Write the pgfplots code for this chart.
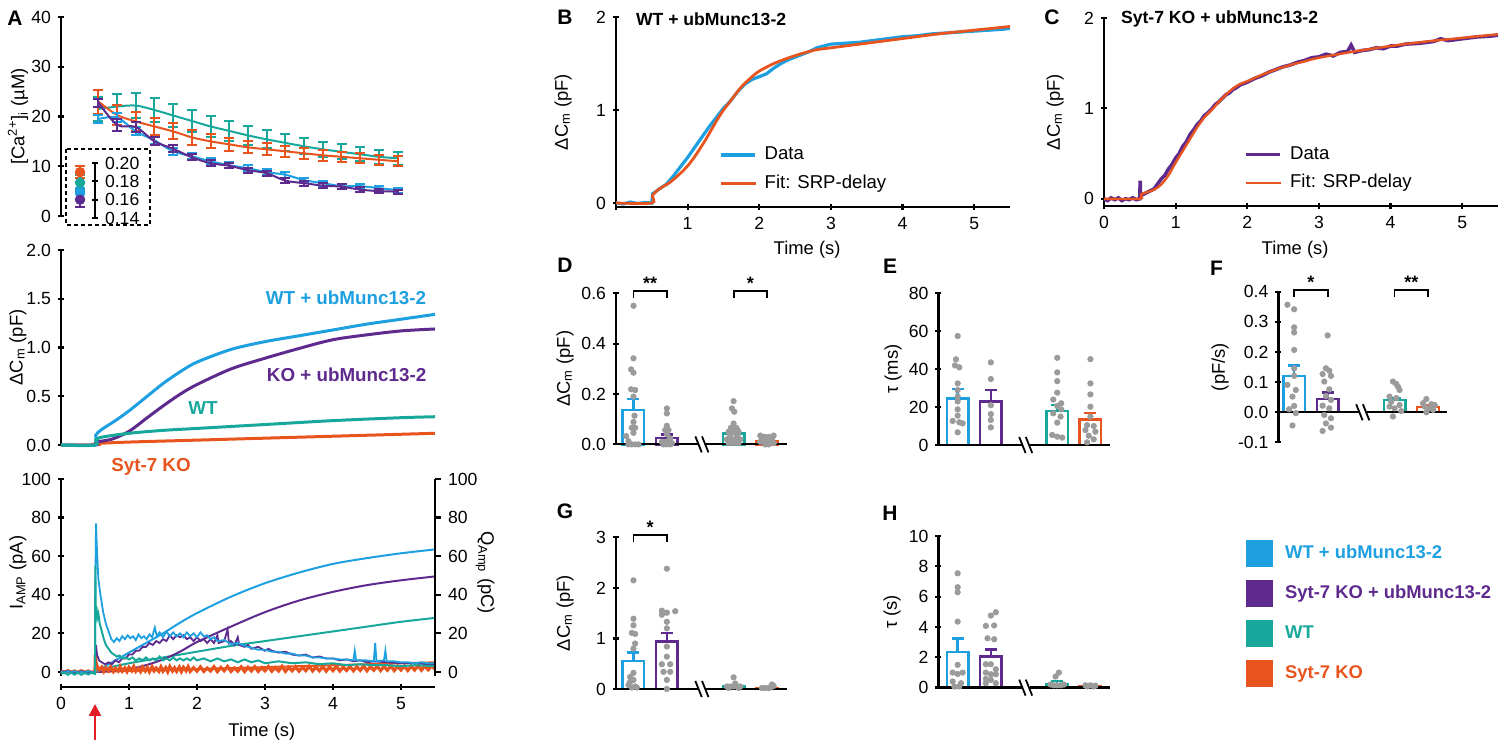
\documentclass[border=0pt]{standalone}
\usepackage{fontspec}
\setmainfont{Liberation Sans}
\usepackage{pgfplots}
\pgfplotsset{compat=1.18}
\usetikzlibrary{arrows.meta}
\definecolor{cblue}{HTML}{1EA0E0}
\definecolor{cpurp}{HTML}{5E2A8E}
\definecolor{cteal}{HTML}{17A89B}
\definecolor{corng}{HTML}{E8541E}
\definecolor{cgray}{HTML}{9B9B9B}
\definecolor{cred}{HTML}{E41E26}
\pgfplotsset{
 base/.style={scale only axis, clip=false, enlargelimits=false,
   axis line style={line width=1.1pt},
   tick style={line width=1.1pt, black},
   major tick length=3pt, tick align=outside,
   tick label style={font=\fontsize{8.8}{10}\selectfont},
   label style={font=\fontsize{9.2}{10}\selectfont},
   /pgf/number format/assume math mode=true},
 noarr/.style={every outer x axis line/.append style={-}, every outer y axis line/.append style={-},
   every inner x axis line/.append style={-}, every inner y axis line/.append style={-}},
 barax/.style={base, axis y line=left, axis x line=none, xtick=\empty, noarr},
 onebar/.style={ybar, bar width=10.8pt, bar shift=0pt, fill=white, draw=#1, line width=1.2pt,
   error bars/y dir=plus, error bars/y explicit,
   error bars/error bar style={line width=1.2pt, #1},
   error bars/error mark options={#1, rotate=90, mark size=3pt, line width=1.2pt}},
 dots/.style={only marks, mark=*, mark size=1.35pt, cgray, mark options={fill=cgray, draw=cgray}},
 caser/.style={#1, line width=1pt, smooth, mark=none,
   error bars/y dir=both, error bars/y explicit,
   error bars/error bar style={line width=1pt, #1},
   error bars/error mark options={#1, rotate=90, mark size=2.5pt, line width=1pt}},
 inset/.style={#1, only marks, mark=*, mark size=2.4pt,
   error bars/y dir=both, error bars/y explicit,
   error bars/error bar style={line width=1pt, #1},
   error bars/error mark options={#1, rotate=90, mark size=2.5pt, line width=1pt}},
}
\newcommand{\brk}{%
  \draw[white, line width=2.5pt] (axis cs:2.93,0) -- (axis cs:3.17,0);
  \draw[line width=0.9pt] ([shift={(-1.6pt,4pt)}]axis cs:2.95,0) -- ([shift={(1.6pt,-4pt)}]axis cs:2.95,0);
  \draw[line width=0.9pt] ([shift={(-1.6pt,4pt)}]axis cs:3.15,0) -- ([shift={(1.6pt,-4pt)}]axis cs:3.15,0);}
\newcommand{\bracket}[4]{% x1 x2 y text
  \draw[line width=0.9pt] ([yshift=-2.5pt]axis cs:#1,#3) -- ([yshift=1pt]axis cs:#1,#3) -- ([yshift=1pt]axis cs:#2,#3) -- ([yshift=-2.5pt]axis cs:#2,#3);
  \node[anchor=south, inner sep=0.5pt, font=\bfseries\fontsize{9}{9}\selectfont] at ([yshift=1pt]axis cs:{(#1+#2)/2},#3) {#4};}
\begin{document}
\begin{tikzpicture}
\path[use as bounding box] (0,0) rectangle (750pt,-371pt);
\tikzset{lab/.style={font=\bfseries\fontsize{10.5}{12}\selectfont, anchor=center}}
\node[lab] at (7.5pt,-9pt) {A};
\node[lab] at (282.5pt,-8.5pt) {B};
\node[lab] at (526pt,-8.5pt) {C};
\node[lab] at (282.5pt,-132.5pt) {D};
\node[lab] at (445pt,-133.3pt) {E};
\node[lab] at (608.3pt,-134pt) {F};
\node[lab] at (282.5pt,-255.8pt) {G};
\node[lab] at (445pt,-256.7pt) {H};

% ---------------- A top: Ca
\begin{axis}[base, at={(30.5pt,-108pt)}, anchor=south west, width=187pt, height=99.5pt,
  xmin=0, xmax=5.5, ymin=0, ymax=40, axis y line=left, axis x line=none, noarr,
  ytick={0,10,20,30,40},
  ylabel={[Ca\textsuperscript{2+}]\textsubscript{i} (µM)},
  ylabel style={at={(axis description cs:-0.115,0.5)}, anchor=center}]
\addplot[caser=cteal] coordinates {(0.55,21.5)+-(0,2.4) (0.825,22.0)+-(0,2.5) (1.1,22.2)+-(0,2.5) (1.375,21.3)+-(0,2.4) (1.65,20.2)+-(0,2.3) (1.925,19.1)+-(0,2.2) (2.2,18.0)+-(0,2.1) (2.475,17.1)+-(0,2.0) (2.75,16.2)+-(0,1.9) (3.025,15.4)+-(0,1.8) (3.3,14.7)+-(0,1.7) (3.575,14.0)+-(0,1.6) (3.85,13.4)+-(0,1.5) (4.125,12.9)+-(0,1.5) (4.4,12.4)+-(0,1.4) (4.675,11.9)+-(0,1.4) (4.95,11.6)+-(0,1.3)};
\addplot[caser=corng] coordinates {(0.55,23.0)+-(0,2.4) (0.825,20.3)+-(0,2.0) (1.1,19.0)+-(0,1.9) (1.375,18.0)+-(0,1.7) (1.65,17.0)+-(0,1.6) (1.925,15.8)+-(0,1.5) (2.2,15.0)+-(0,1.4) (2.475,14.4)+-(0,1.3) (2.75,13.8)+-(0,1.2) (3.025,13.4)+-(0,1.2) (3.3,13.0)+-(0,1.1) (3.575,12.6)+-(0,1.1) (3.85,12.2)+-(0,1.1) (4.125,11.9)+-(0,1.0) (4.4,11.6)+-(0,1.0) (4.675,11.3)+-(0,1.0) (4.95,11.0)+-(0,1.0)};
\addplot[caser=cblue] coordinates {(0.55,19.5)+-(0,0.8) (0.825,19.8)+-(0,0.9) (1.1,17.0)+-(0,0.8) (1.375,15.2)+-(0,0.7) (1.65,13.0)+-(0,0.7) (1.925,12.0)+-(0,0.6) (2.2,11.0)+-(0,0.6) (2.475,10.2)+-(0,0.6) (2.75,9.6)+-(0,0.6) (3.025,8.8)+-(0,0.6) (3.3,8.3)+-(0,0.6) (3.575,7.2)+-(0,0.5) (3.85,6.6)+-(0,0.5) (4.125,6.0)+-(0,0.5) (4.4,6.0)+-(0,0.5) (4.675,5.6)+-(0,0.5) (4.95,5.2)+-(0,0.5)};
\addplot[caser=cpurp] coordinates {(0.55,22.8)+-(0,0.8) (0.825,18.3)+-(0,1.2) (1.1,17.9)+-(0,1.0) (1.375,15.0)+-(0,0.8) (1.65,13.5)+-(0,0.7) (1.925,11.8)+-(0,0.6) (2.2,10.6)+-(0,0.6) (2.475,10.1)+-(0,0.5) (2.75,9.2)+-(0,0.5) (3.025,8.6)+-(0,0.5) (3.3,7.1)+-(0,0.5) (3.575,6.6)+-(0,0.5) (3.85,6.1)+-(0,0.5) (4.125,5.9)+-(0,0.5) (4.4,5.3)+-(0,0.5) (4.675,5.0)+-(0,0.4) (4.95,4.9)+-(0,0.4)};
\end{axis}
\draw[line width=1pt, dash pattern=on 2pt off 1.5pt] (33pt,-74.5pt) rectangle (75pt,-112.5pt);
% inset
\begin{axis}[base, at={(36pt,-109pt)}, anchor=south west, width=11.5pt, height=27.5pt,
  xmin=0, xmax=1, ymin=0.14, ymax=0.20, axis y line=right, axis x line=none, noarr,
  ytick={0.14,0.16,0.18,0.20},
  yticklabel style={/pgf/number format/.cd, fixed, fixed zerofill, precision=2}]
\addplot[inset=corng] coordinates {(0.35,0.19)+-(0,0.0065)};
\addplot[inset=cteal] coordinates {(0.35,0.1785)+-(0,0.008)};
\addplot[inset=cblue] coordinates {(0.35,0.167)+-(0,0.006)};
\addplot[inset=cpurp] coordinates {(0.35,0.160)+-(0,0.008)};
\end{axis}

% ---------------- A middle: dCm
\begin{axis}[base, at={(30.5pt,-222.5pt)}, anchor=south west, width=187pt, height=97.5pt,
  xmin=0, xmax=5.5, ymin=0, ymax=2, axis y line=left, axis x line=none, noarr,
  ytick={0,0.5,1,1.5,2},
  yticklabel style={/pgf/number format/.cd, fixed, fixed zerofill, precision=1},
  ylabel={ΔC\textsubscript{m} (pF)},
  ylabel style={at={(axis description cs:-0.115,0.5)}, anchor=center}]
\addplot[corng, line width=1.5pt, smooth] coordinates {(0,0) (0.5,0) (0.52,0.015) (1.0,0.03) (2.0,0.05) (3.0,0.07) (4.0,0.09) (5.0,0.11) (5.5,0.12)};
\addplot[cpurp, line width=1.5pt, smooth] coordinates {(0,0) (0.5,0) (0.52,0.03) (0.75,0.06) (1.0,0.14) (1.25,0.27) (1.5,0.4) (1.75,0.52) (2.0,0.62) (2.5,0.78) (3.0,0.89) (3.5,0.99) (4.0,1.08) (4.5,1.13) (5.0,1.17) (5.5,1.19)};
\addplot[cblue, line width=1.5pt, smooth] coordinates {(0,0) (0.5,0) (0.51,0.1) (0.6,0.16) (0.8,0.25) (1.0,0.35) (1.25,0.49) (1.5,0.63) (1.75,0.75) (2.0,0.85) (2.5,0.98) (3.0,1.06) (3.5,1.12) (4.0,1.18) (4.5,1.24) (5.0,1.29) (5.5,1.34)};
\addplot[cteal, line width=1.5pt, smooth] coordinates {(0,0) (0.5,0) (0.51,0.05) (0.6,0.08) (1.0,0.12) (1.5,0.15) (2.0,0.17) (3.0,0.21) (4.0,0.25) (5.0,0.28) (5.5,0.29)};
\end{axis}
\tikzset{glab/.style={font=\bfseries\fontsize{9.4}{10}\selectfont, anchor=center}}
\node[glab, text=cblue] at (173pt,-149pt) {WT + ubMunc13-2};
\node[glab, text=cpurp] at (173.3pt,-187.5pt) {KO + ubMunc13-2};
\node[glab, text=cteal] at (101.5pt,-204pt) {WT};
\node[glab, text=corng] at (75.5pt,-233.5pt) {Syt-7 KO};

% ---------------- A bottom: I_AMP and Q
\begin{axis}[base, at={(30.5pt,-343.5pt)}, anchor=south west, width=187pt, height=104pt,
  xmin=0, xmax=5.5, ymin=-7.8, ymax=100, axis y line=left, axis x line=bottom, noarr,
  y axis line style={shorten <=5.5pt},
  xtick={0,1,2,3,4,5}, ytick={0,20,40,60,80,100},
  xlabel={Time (s)}, ylabel={I\textsubscript{AMP} (pA)},
  xlabel style={at={(axis description cs:0.537,-0.216)}, anchor=center},
  ylabel style={at={(axis description cs:-0.115,0.55)}, anchor=center}]
\addplot[corng, line width=1pt] coordinates {(0,0) (0.5,0) (1,0.5) (2,1.5) (3,2.5) (4,3.5) (5,4.5) (5.5,5)};
\addplot[cteal, line width=1pt, smooth] coordinates {(0,0) (0.5,0) (0.6,1.5) (1.0,4.5) (1.5,7.5) (2.0,10.5) (2.5,13.5) (3.0,16) (3.5,18.5) (4.0,21) (4.5,23.5) (5.0,26) (5.5,28)};
\addplot[cpurp, line width=1pt, smooth] coordinates {(0,0) (0.5,0) (0.75,0.5) (1.0,1.5) (1.25,3.5) (1.5,6.5) (1.75,10.5) (2.0,15.5) (2.5,23.5) (3.0,31) (3.5,37) (4.0,41.5) (4.5,45) (5.0,47.5) (5.5,49.5)};
\addplot[cblue, line width=1pt, smooth] coordinates {(0,0) (0.5,0) (0.6,2) (0.8,6) (1.0,10) (1.25,15) (1.5,20) (1.75,25.5) (2.0,30.5) (2.5,39) (3.0,46) (3.5,51.5) (4.0,56) (4.5,59) (5.0,61.5) (5.5,63.5)};
\addplot[corng, line width=1.6pt] coordinates {(0,0.5) (0.05,-0.3) (0.1,0.6) (0.15,-0.2) (0.2,0.5) (0.25,-0.3) (0.3,0.6) (0.35,-0.2) (0.4,0.5) (0.45,-0.3) (0.5,0) (0.505,9) (0.515,5) (0.53,3) (0.56,1) (0.6,2.5) (0.63,0.3) (0.66,2.2) (0.7,0.6) (0.73,2.6) (0.77,0.2) (0.8,1.9) (0.84,0.5) (0.87,2.7) (0.9,0.4) (0.94,2.1) (0.97,0.2) (1.0,2.4) (1.04,0.6) (1.07,2.8) (1.1,0.3) (1.14,1.9) (1.17,0.2) (1.2,2.5) (1.24,0.5) (1.27,2.3) (1.3,0.1) (1.34,2.7) (1.37,0.6) (1.4,2.0) (1.44,0.3) (1.47,2.6) (1.5,0.4) (1.54,2.2) (1.57,0.1) (1.6,2.8) (1.64,0.5) (1.67,2.1) (1.7,0.3) (1.74,2.5) (1.77,0.2) (1.8,2.4) (1.84,0.6) (1.87,2.7) (1.9,0.3) (1.95,2.2) (2.0,0.4) (2.05,2.6) (2.1,0.3) (2.15,2.0) (2.2,0.5) (2.25,2.7) (2.3,0.2) (2.35,2.3) (2.4,0.6) (2.45,2.8) (2.5,0.3) (2.55,2.1) (2.6,0.4) (2.65,2.6) (2.7,0.2) (2.75,2.4) (2.8,0.5) (2.85,2.7) (2.9,0.3) (2.95,2.2) (3.0,0.6) (3.05,2.8) (3.1,0.4) (3.15,2.3) (3.2,0.5) (3.25,2.9) (3.3,0.3) (3.35,2.4) (3.4,0.6) (3.45,2.7) (3.5,0.4) (3.55,2.5) (3.6,0.7) (3.65,2.9) (3.7,0.5) (3.75,2.6) (3.8,0.6) (3.85,2.8) (3.9,0.4) (3.95,2.6) (4.0,0.7) (4.05,3.0) (4.1,0.5) (4.15,2.6) (4.2,0.8) (4.25,2.9) (4.3,0.6) (4.35,2.7) (4.4,0.8) (4.45,3.1) (4.5,0.6) (4.55,2.8) (4.6,0.9) (4.65,3.0) (4.7,0.7) (4.75,2.9) (4.8,0.9) (4.85,3.2) (4.9,0.7) (4.95,2.9) (5.0,1.0) (5.05,3.1) (5.1,0.8) (5.15,3.0) (5.2,1.0) (5.25,3.3) (5.3,0.9) (5.35,3.1) (5.4,1.1) (5.45,3.2) (5.5,1.5)};
\addplot[cpurp, line width=0.9pt] coordinates {(0,0) (0.1,0.5) (0.2,-0.5) (0.3,0.4) (0.4,-0.4) (0.5,0) (0.505,9) (0.515,14) (0.53,9) (0.56,6) (0.6,5) (0.65,4) (0.7,5) (0.75,4) (0.8,6) (0.85,5) (0.9,7) (0.95,7) (1.0,9) (1.05,9) (1.1,11) (1.15,11) (1.2,13) (1.25,13) (1.3,15) (1.35,14) (1.4,16) (1.45,15) (1.5,17) (1.55,16) (1.6,19) (1.65,17) (1.7,19) (1.75,18) (1.8,19) (1.85,17) (1.9,18) (1.95,16) (2.0,18) (2.05,16) (2.1,17) (2.15,15) (2.2,17) (2.25,15) (2.3,19) (2.32,15) (2.4,16) (2.45,22) (2.47,15) (2.5,16) (2.55,14) (2.6,18) (2.62,14) (2.7,13) (2.75,14) (2.8,12) (2.9,13) (3.0,11) (3.05,12) (3.1,11) (3.2,10) (3.3,10.5) (3.4,9) (3.5,8.5) (3.6,9) (3.7,7.5) (3.8,8) (3.9,7) (4.0,7) (4.1,6) (4.2,6.5) (4.3,5.5) (4.4,6) (4.5,5) (4.6,5.5) (4.8,5) (5.0,4.5) (5.2,4.5) (5.4,4) (5.5,4)};
\addplot[cblue, line width=0.9pt] coordinates {(0,0.3) (0.05,-0.6) (0.1,0.4) (0.15,-0.3) (0.2,0.5) (0.25,-0.5) (0.3,0.2) (0.35,-0.4) (0.4,0.5) (0.45,-0.3) (0.5,0) (0.505,45) (0.515,77) (0.53,62) (0.55,48) (0.58,40) (0.62,31) (0.66,25) (0.7,21) (0.74,17) (0.78,15.5) (0.82,17.5) (0.86,16) (0.9,18.5) (0.94,17) (0.98,19) (1.02,17.5) (1.06,18.5) (1.1,16.5) (1.14,19.5) (1.18,17.5) (1.22,18.5) (1.26,17) (1.3,19.5) (1.34,18) (1.38,23) (1.41,18.5) (1.45,20.5) (1.5,18) (1.55,21) (1.6,18.5) (1.65,20.5) (1.7,18.5) (1.75,20) (1.8,18) (1.85,20.5) (1.9,18.5) (1.95,20) (2.0,18) (2.05,20.5) (2.1,18.5) (2.15,19) (2.2,17) (2.25,18) (2.3,16) (2.4,16.5) (2.5,14.5) (2.6,15) (2.7,13.5) (2.8,12.5) (2.9,11.5) (3.0,11.5) (3.1,10.5) (3.2,10.5) (3.3,9.5) (3.4,9.5) (3.5,8.5) (3.6,8.5) (3.7,7.5) (3.8,7.5) (3.9,7) (4.0,7) (4.1,6.5) (4.2,6.5) (4.3,6) (4.32,11) (4.34,6) (4.5,6) (4.6,5.5) (4.62,15) (4.64,5.5) (4.75,6) (4.77,11) (4.79,5.5) (4.9,5.5) (5.0,5) (5.1,5) (5.2,4.5) (5.3,5) (5.4,4.5) (5.5,4.5)};
\addplot[cteal, line width=1pt] coordinates {(0,-1) (0.05,-0.2) (0.1,-1.5) (0.15,-0.4) (0.2,-1.4) (0.25,-0.3) (0.3,-1.5) (0.35,-0.5) (0.4,-1.3) (0.45,-0.4) (0.5,-1) (0.505,55) (0.512,30) (0.52,34) (0.535,28) (0.55,30) (0.57,25) (0.6,21) (0.63,17) (0.66,14) (0.7,12) (0.74,10) (0.78,9) (0.82,8) (0.86,8.5) (0.9,7) (0.95,7.5) (1.0,6.5) (1.05,7.5) (1.1,6) (1.15,7) (1.2,6) (1.25,7.5) (1.3,6) (1.35,7) (1.4,6) (1.45,8) (1.5,6) (1.55,7) (1.6,6) (1.65,7.5) (1.7,6) (1.75,7) (1.8,6) (1.85,7) (1.9,6) (1.95,7.5) (2.0,6) (2.1,7) (2.2,5.5) (2.3,7) (2.4,5.5) (2.5,6.5) (2.6,5) (2.7,6.5) (2.8,5) (2.9,6) (3.0,4.5) (3.2,5.5) (3.4,4.5) (3.6,5) (3.8,4) (4.0,4.5) (4.2,3.5) (4.4,4) (4.6,3.5) (4.8,3.5) (5.0,3) (5.2,3.5) (5.5,3)};
\end{axis}
\begin{axis}[base, at={(30.5pt,-343.5pt)}, anchor=south west, width=187pt, height=104pt,
  xmin=0, xmax=5.5, ymin=-7.8, ymax=100, axis y line*=right, axis x line=none, noarr,
  y axis line style={shorten <=5.5pt},
  ytick={0,20,40,60,80,100},
  ylabel={Q\textsubscript{Amp} (pC)},
  ylabel style={at={(axis description cs:1.134,0.55)}, anchor=center, rotate=180}]
\addplot[draw=none] coordinates {(0,0)};
\end{axis}
\draw[cred, line width=1.3pt, -{Triangle[length=6pt, width=6pt]}] (47.5pt,-370pt) -- (47.5pt,-352pt);

% ---------------- B
\begin{axis}[base, at={(308pt,-103.6pt)}, anchor=south west, width=197pt, height=95pt,
  xmin=0, xmax=5.5, ymin=-0.045, ymax=2, axis lines=left, noarr,
  xtick={0,1,2,3,4,5}, xticklabels={,1,2,3,4,5}, ytick={0,1,2},
  xlabel={Time (s)}, ylabel={ΔC\textsubscript{m} (pF)},
  xlabel style={at={(axis description cs:0.485,-0.226)}, anchor=center},
  ylabel style={at={(axis description cs:-0.1345,0.5)}, anchor=center},
  legend style={at={(0.246,0.36)}, anchor=north west, draw=none, fill=none, font=\fontsize{9.3}{10}\selectfont, row sep=2pt},
  legend cell align=left]
\addplot[cblue, line width=1.6pt] coordinates {(0,0.0) (0.1,-0.01) (0.2,0.01) (0.3,-0.005) (0.4,0.005) (0.5,0) (0.51,0.1) (0.55,0.12) (0.6,0.15) (0.7,0.2) (0.8,0.29) (0.9,0.39) (1.0,0.49) (1.1,0.6) (1.2,0.71) (1.3,0.82) (1.4,0.92) (1.5,1.02) (1.6,1.1) (1.7,1.2) (1.8,1.28) (1.9,1.33) (2.0,1.36) (2.1,1.39) (2.2,1.45) (2.3,1.5) (2.4,1.54) (2.5,1.57) (2.6,1.6) (2.7,1.63) (2.8,1.67) (2.9,1.69) (3.0,1.71) (3.2,1.72) (3.4,1.73) (3.6,1.75) (3.8,1.77) (4.0,1.79) (4.2,1.8) (4.4,1.82) (4.6,1.83) (4.8,1.84) (5.0,1.85) (5.2,1.86) (5.4,1.87) (5.5,1.88)};
\addlegendentry{\hspace{2pt}Data}
\addplot[corng, line width=1.4pt, smooth] coordinates {(0,0) (0.5,0) (0.51,0.08) (0.6,0.15) (0.75,0.22) (0.9,0.32) (1.0,0.4) (1.1,0.5) (1.25,0.68) (1.4,0.88) (1.5,1.0) (1.6,1.1) (1.75,1.25) (1.9,1.36) (2.0,1.42) (2.2,1.5) (2.4,1.56) (2.6,1.61) (2.8,1.65) (3.0,1.67) (3.5,1.72) (4.0,1.77) (4.5,1.82) (5.0,1.86) (5.5,1.9)};
\addlegendentry{\hspace{2pt}Fit: SRP-delay}
\end{axis}
\node[anchor=west, font=\bfseries\fontsize{8.8}{10}\selectfont] at (314.5pt,-9.5pt) {WT + ubMunc13-2};

% ---------------- C
\begin{axis}[base, at={(552pt,-103pt)}, anchor=south west, width=197pt, height=94pt,
  xmin=0, xmax=5.5, ymin=-0.08, ymax=2, axis lines=left, noarr,
  xtick={0,1,2,3,4,5}, ytick={0,1,2},
  xlabel={Time (s)}, ylabel={ΔC\textsubscript{m} (pF)},
  xlabel style={at={(axis description cs:0.485,-0.234)}, anchor=center},
  ylabel style={at={(axis description cs:-0.124,0.5)}, anchor=center},
  legend style={at={(0.34,0.36)}, anchor=north west, draw=none, fill=none, font=\fontsize{9.3}{10}\selectfont, row sep=2pt},
  legend cell align=left]
\addplot[cpurp, line width=1.8pt] coordinates {(0,0.0) (0.05,-0.02) (0.1,0.01) (0.15,-0.01) (0.2,0.01) (0.25,-0.02) (0.3,0.0) (0.35,-0.01) (0.4,0.01) (0.45,-0.01) (0.5,0.0) (0.505,0.2) (0.51,0.03) (0.55,0.05) (0.6,0.07) (0.7,0.11) (0.8,0.22) (0.85,0.26) (0.9,0.33) (0.95,0.38) (1.0,0.45) (1.05,0.5) (1.1,0.58) (1.15,0.63) (1.2,0.71) (1.25,0.76) (1.3,0.82) (1.35,0.86) (1.4,0.92) (1.45,0.95) (1.5,0.99) (1.55,1.04) (1.6,1.07) (1.65,1.11) (1.7,1.15) (1.75,1.17) (1.8,1.21) (1.85,1.23) (1.9,1.26) (2.0,1.29) (2.1,1.33) (2.2,1.36) (2.3,1.40) (2.4,1.43) (2.5,1.46) (2.6,1.48) (2.7,1.51) (2.8,1.53) (2.9,1.56) (3.0,1.57) (3.1,1.6) (3.2,1.58) (3.3,1.62) (3.4,1.63) (3.45,1.7) (3.5,1.62) (3.6,1.64) (3.7,1.65) (3.8,1.67) (3.9,1.66) (4.0,1.69) (4.1,1.69) (4.2,1.71) (4.4,1.72) (4.6,1.74) (4.7,1.77) (4.8,1.75) (5.0,1.77) (5.2,1.79) (5.4,1.8) (5.5,1.81)};
\addlegendentry{\hspace{2pt}Data}
\addplot[corng, line width=1.2pt, smooth] coordinates {(0,0) (0.5,0) (0.52,0.05) (0.7,0.1) (0.8,0.16) (0.9,0.26) (1.0,0.4) (1.1,0.53) (1.2,0.66) (1.3,0.79) (1.4,0.9) (1.5,0.98) (1.6,1.07) (1.7,1.15) (1.8,1.22) (1.9,1.27) (2.0,1.3) (2.2,1.37) (2.4,1.43) (2.6,1.48) (2.8,1.52) (3.0,1.56) (3.5,1.63) (4.0,1.69) (4.5,1.74) (5.0,1.78) (5.5,1.82)};
\addlegendentry{\hspace{2pt}Fit: SRP-delay}
\end{axis}
\node[anchor=west, font=\bfseries\fontsize{8.8}{10}\selectfont] at (557pt,-9.5pt) {Syt-7 KO + ubMunc13-2};

% ---------------- D
\begin{axis}[barax, at={(308pt,-222.2pt)}, anchor=south west, width=85.5pt, height=75.5pt,
  xmin=0.476, xmax=5.6, ymin=0, ymax=0.6, ytick={0,0.2,0.4,0.6},
  yticklabel style={/pgf/number format/.cd, fixed, fixed zerofill, precision=1},
  ylabel={ΔC\textsubscript{m} (pF)}, xlabel={\bfseries RRP},
  ylabel style={at={(axis description cs:-0.298,0.5)}, anchor=center},
  xlabel style={at={(axis description cs:0.52,-0.132)}, anchor=center}]
\addplot[onebar=cblue] coordinates {(1,0.137)+-(0,0.043)};
\addplot[onebar=cpurp] coordinates {(2,0.025)+-(0,0.015)};
\addplot[onebar=cteal] coordinates {(4,0.044)+-(0,0.016)};
\addplot[onebar=corng] coordinates {(5,0.013)+-(0,0.005)};
\addplot[dots] coordinates {(1,0.551) (1,0.342) (0.93,0.298) (1.0,0.285) (0.93,0.219) (1.05,0.216) (1.0,0.19) (1.03,0.114) (1.0,0.089) (0.95,0.066) (1.05,0.066) (1.0,0.046) (0.78,0.033) (0.85,0.013) (0.85,0) (0.95,0) (1.05,0) (1.15,0)
 (2,0.143) (2,0.123) (2.0,0.074) (1.95,0.057) (2.05,0.057) (2.0,0.04) (2.1,0.024) (1.85,0.01) (1.95,0.01) (2.05,0.01) (2.15,0.005) (1.9,0) (2.0,0) (2.1,0)
 (4,0.172) (3.95,0.143) (4.02,0.13) (4.0,0.083) (3.92,0.066) (4.08,0.066) (3.85,0.05) (4.0,0.05) (4.15,0.05) (3.9,0.035) (4.1,0.035) (3.8,0.02) (3.95,0.02) (4.05,0.02) (4.2,0.02) (3.85,0.005) (4.0,0.005) (4.15,0.005)
 (4.8,0.035) (4.92,0.03) (5.05,0.03) (5.2,0.035) (4.85,0.025) (5.0,0.025) (5.15,0.02) (4.9,0.015) (5.1,0.015) (4.8,0.01) (5.0,0.008) (5.2,0.005) (4.95,0.0) (5.05,0.0)};
\draw[line width=1.1pt] (axis cs:0.476,0) -- (axis cs:5.6,0);
\brk
\bracket{1}{2}{0.6}{**}
\bracket{4}{5}{0.6}{*}
\end{axis}

% ---------------- E
\begin{axis}[barax, at={(469.2pt,-222.5pt)}, anchor=south west, width=85.8pt, height=75.8pt,
  xmin=0.42, xmax=5.59, ymin=0, ymax=80, ytick={0,20,40,60,80},
  ylabel={τ (ms)}, xlabel={\bfseries fast},
  ylabel style={at={(axis description cs:-0.264,0.5)}, anchor=center},
  xlabel style={at={(axis description cs:0.505,-0.125)}, anchor=center}]
\addplot[onebar=cblue] coordinates {(1,24.5)+-(0,5)};
\addplot[onebar=cpurp] coordinates {(2,23)+-(0,6)};
\addplot[onebar=cteal] coordinates {(4,18)+-(0,3)};
\addplot[onebar=corng] coordinates {(5,13.5)+-(0,3.5)};
\addplot[dots] coordinates {(1.0,57.5) (0.95,45.2) (0.92,42) (1.05,41) (1.0,32.5) (1.0,29) (1.0,25.5) (1.0,23) (1.0,18.8) (1.0,15.5) (0.85,12.7) (1.05,12) (1.15,11.4) (1.0,6.7)
 (2,43.6) (2,34.8) (2,21) (2,16.3) (2,13.2) (2,9.3)
 (4,46) (4,38.3) (4,33.7) (4,27.6) (3.88,24) (4.12,22) (4.0,20.6) (4.12,18.8) (3.88,16.7) (4.1,15) (4.0,11.8) (3.85,5.3) (4.0,4.4) (4.15,3.9)
 (5,45.3) (5,32.5) (5,26.7) (5,20.2) (5,15) (4.9,10.5) (5.1,10) (4.85,7.9) (5.15,7) (4.95,4.9) (5.1,3) (4.9,1.4)};
\draw[line width=1.1pt] (axis cs:0.42,0) -- (axis cs:5.59,0);
\brk
\end{axis}

% ---------------- F
\begin{axis}[barax, at={(639.2pt,-221.2pt)}, anchor=south west, width=84.2pt, height=75.3pt,
  xmin=0.53, xmax=5.56, ymin=-0.1, ymax=0.4, ytick={-0.1,0,0.1,0.2,0.3,0.4},
  yticklabel style={/pgf/number format/.cd, fixed, fixed zerofill, precision=1},
  ylabel={(pF/s)}, xlabel={\bfseries sus. rate},
  ylabel style={at={(axis description cs:-0.346,0.5)}, anchor=center},
  xlabel style={at={(axis description cs:0.556,-0.135)}, anchor=center}]
\addplot[onebar=cblue] coordinates {(1,0.12)+-(0,0.035)};
\addplot[onebar=cpurp] coordinates {(2,0.045)+-(0,0.02)};
\addplot[onebar=cteal] coordinates {(4,0.04)+-(0,0.007)};
\addplot[onebar=corng] coordinates {(5,0.017)+-(0,0.005)};
\addplot[dots] coordinates {(0.8,0.357) (1.0,0.342) (1.0,0.282) (1.0,0.265) (1.0,0.207) (1.0,0.146) (1.0,0.121) (0.8,0.091) (1.05,0.074) (0.95,0.052) (1.0,0.021) (0.85,0.01) (1.05,-0.003) (0.95,-0.044)
 (2,0.255) (1.95,0.146) (2.05,0.138) (1.85,0.127) (2.1,0.121) (1.9,0.102) (2.05,0.076) (1.95,0.054) (2.1,0.041) (1.85,0.022) (2.05,0.013) (1.9,-0.009) (2.1,-0.02) (1.95,-0.037) (2.1,-0.051) (1.85,-0.062)
 (3.95,0.102) (4.05,0.094) (4.1,0.085) (4.15,0.074) (3.85,0.052) (4.05,0.047) (3.9,0.035) (4.15,0.024) (3.85,0.019) (4.0,0.013) (4.2,0.004) (3.95,-0.014)
 (4.95,0.044) (4.85,0.03) (5.1,0.027) (5.2,0.024) (4.9,0.019) (5.05,0.013) (5.15,0.008) (4.95,0)};
\draw[line width=1.1pt] (axis cs:0.53,0) -- (axis cs:5.56,0);
\brk
\bracket{1}{2}{0.4}{*}
\bracket{4}{5}{0.4}{**}
\end{axis}

% ---------------- G
\begin{axis}[barax, at={(308pt,-344.5pt)}, anchor=south west, width=85.5pt, height=75.8pt,
  xmin=0.476, xmax=5.6, ymin=0, ymax=3, ytick={0,1,2,3},
  ylabel={ΔC\textsubscript{m} (pF)}, xlabel={\bfseries SRP},
  ylabel style={at={(axis description cs:-0.298,0.5)}, anchor=center},
  xlabel style={at={(axis description cs:0.538,-0.15)}, anchor=center}]
\addplot[onebar=cblue] coordinates {(1,0.55)+-(0,0.17)};
\addplot[onebar=cpurp] coordinates {(2,0.94)+-(0,0.17)};
\addplot[onebar=cteal] coordinates {(4,0.05)+-(0,0.02)};
\addplot[onebar=corng] coordinates {(5,0.025)+-(0,0.01)};
\addplot[dots] coordinates {(1,2.15) (1,1.39) (1,1.26) (0.95,1.11) (1.05,1.09) (1.05,0.9) (1.0,0.8) (1.0,0.32) (0.9,0.24) (1.0,0.18) (0.9,0.145) (0.85,0.08) (1.05,0.05) (0.95,0.03) (1.1,0.03)
 (2,2.38) (1.85,1.55) (2.0,1.51) (2.25,1.54) (1.85,1.47) (2.0,1.33) (2.0,1.2) (2.0,0.84) (2.0,0.64) (1.85,0.49) (2.1,0.49) (1.9,0.34) (2.1,0.34) (2.0,0.18) (2.0,0.0)
 (4,0.23) (4.05,0.11) (3.8,0.05) (3.9,0.05) (4.0,0.05) (4.1,0.05) (4.2,0.05) (3.85,0.02) (4.15,0.02)
 (5.15,0.09) (5.2,0.06) (4.85,0.02) (4.95,0.02) (5.05,0.02) (5.1,0.03)};
\draw[line width=1.1pt] (axis cs:0.476,0) -- (axis cs:5.6,0);
\brk
\bracket{1}{2}{3}{*}
\end{axis}

% ---------------- H
\begin{axis}[barax, at={(469.2pt,-343.8pt)}, anchor=south west, width=85.8pt, height=75.8pt,
  xmin=0.42, xmax=5.59, ymin=0, ymax=10, ytick={0,2,4,6,8,10},
  ylabel={τ (s)}, xlabel={\bfseries slow},
  ylabel style={at={(axis description cs:-0.27,0.5)}, anchor=center},
  xlabel style={at={(axis description cs:0.52,-0.158)}, anchor=center}]
\addplot[onebar=cblue] coordinates {(1,2.35)+-(0,0.9)};
\addplot[onebar=cpurp] coordinates {(2,2.05)+-(0,0.45)};
\addplot[onebar=cteal] coordinates {(4,0.25)+-(0,0.17)};
\addplot[onebar=corng] coordinates {(5,0.12)+-(0,0.04)};
\addplot[dots] coordinates {(1.0,7.54) (1.0,6.62) (1.0,6.29) (1.0,4.35) (1.0,1.5) (0.85,0.99) (1.15,0.99) (1.0,0.9) (0.85,0.4) (1.1,0.29) (0.9,0.07) (1.05,0.07)
 (2.15,4.97) (2.0,4.75) (1.85,4.07) (2.1,4.1) (1.9,3.25) (2.1,3.19) (1.85,1.54) (2.0,1.54) (2.15,1.21) (1.85,0.99) (2.0,0.88) (2.15,0.88) (1.85,0.57) (2.0,0.51) (1.85,0.29) (2.15,0.29)
 (4.05,0.99) (3.95,0.73) (3.8,0.2) (3.9,0.15) (4.0,0.15) (4.1,0.15) (4.2,0.2)
 (4.85,0.15) (5.0,0.15) (5.15,0.12) (4.9,0.08) (5.1,0.08)};
\draw[line width=1.1pt] (axis cs:0.42,0) -- (axis cs:5.59,0);
\brk
\end{axis}

% ---------------- Legend
\begin{axis}[hide axis, scale only axis, at={(623pt,-270pt)}, anchor=north west, width=10pt, height=10pt,
  xmin=0, xmax=1, ymin=0, ymax=1,
  legend style={at={(0,1)}, anchor=north west, draw=none, fill=none, inner sep=0pt, row sep=6.5pt,
    font=\bfseries\fontsize{9.2}{10}\selectfont},
  legend cell align=left]
\addlegendimage{legend image code/.code={\fill[cblue] (0pt,-6.5pt) rectangle (13pt,6.5pt);}}
\addlegendentry{\hspace{4pt}\textcolor{cblue}{WT + ubMunc13-2}}
\addlegendimage{legend image code/.code={\fill[cpurp] (0pt,-6.5pt) rectangle (13pt,6.5pt);}}
\addlegendentry{\hspace{4pt}\textcolor{cpurp}{Syt-7 KO + ubMunc13-2}}
\addlegendimage{legend image code/.code={\fill[cteal] (0pt,-6.5pt) rectangle (13pt,6.5pt);}}
\addlegendentry{\hspace{4pt}\textcolor{cteal}{WT}}
\addlegendimage{legend image code/.code={\fill[corng] (0pt,-6.5pt) rectangle (13pt,6.5pt);}}
\addlegendentry{\hspace{4pt}\textcolor{corng}{Syt-7 KO}}
\end{axis}
\end{tikzpicture}
\end{document}
